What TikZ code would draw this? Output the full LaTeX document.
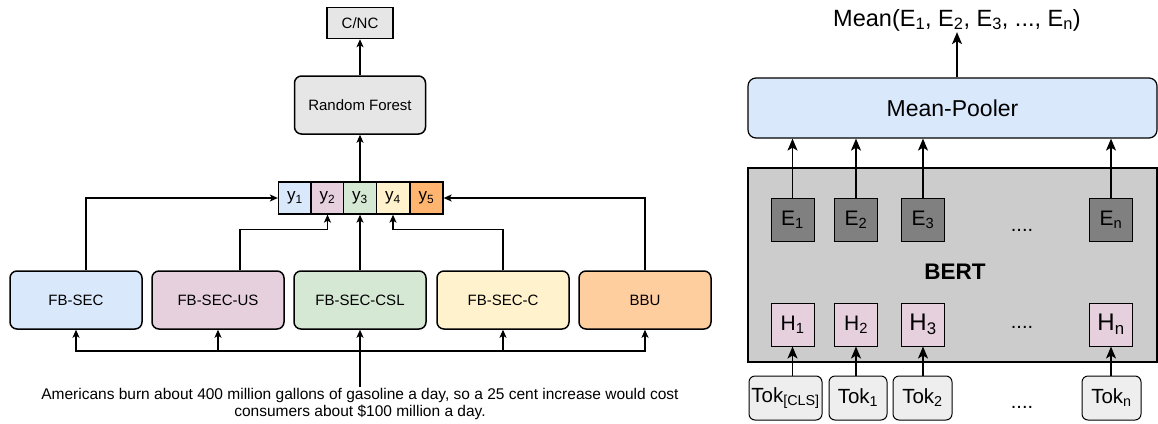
\documentclass[tikz,border=0pt]{standalone}
\usepackage{fontspec}
\setmainfont{Liberation Sans}
\usetikzlibrary{arrows.meta,positioning,calc}
\definecolor{ink}{HTML}{000000}
\definecolor{fbblue}{HTML}{DAE8FC}
\definecolor{fbpurple}{HTML}{E6D0DE}
\definecolor{fbgreen}{HTML}{D5E8D4}
\definecolor{fbyellow}{HTML}{FFF2CC}
\definecolor{bbuorange}{HTML}{FFCE9F}
\definecolor{yorange}{HTML}{FFB570}
\definecolor{rfgray}{HTML}{E6E6E6}
\definecolor{bertgray}{HTML}{CCCCCC}
\definecolor{embgray}{HTML}{808080}
\definecolor{tokgray}{HTML}{EEEEEE}

\begin{document}
\begin{tikzpicture}[
  x=1pt, y=-1pt,
  box/.style={draw=ink, line width=1.5pt, rounded corners=7pt,
    minimum width=132pt, minimum height=58pt, inner sep=2pt,
    font=\fontsize{15}{18}\selectfont},
  cell/.style={draw=ink, line width=1.3pt, minimum width=33pt, minimum height=32pt,
    inner sep=0pt, font=\fontsize{17}{18}\selectfont},
  sqbox/.style={draw=ink, line width=1pt, minimum width=43pt, minimum height=43pt,
    inner sep=0pt, font=\fontsize{21}{22}\selectfont},
  tokbox/.style={draw=ink, line width=1pt, rounded corners=6pt, fill=tokgray,
    minimum height=44pt, inner sep=0pt, font=\fontsize{20.5}{22}\selectfont},
  dots/.style={font=\fontsize{20}{22}\selectfont, inner sep=0pt},
  flow/.style={-{Stealth[length=8pt,width=7pt,inset=2pt]}, draw=ink, line width=1.3pt},
  bigflow/.style={-{Stealth[length=12pt,width=10pt,inset=3pt]}, draw=ink, line width=1.4pt}
]
  \useasboundingbox (0,0) rectangle (1158,423);

  % left: ensemble
  \node[draw=ink, line width=1.5pt, fill=rfgray, minimum width=66pt, minimum height=31pt,
    font=\fontsize{15}{18}\selectfont] (cnc) at (360,23) {C/NC};
  \node[box, fill=rfgray, minimum width=131pt] (rf) at (360,105) {Random Forest};

  \node[cell, fill=fbblue] (y1) at (295,198) {y\textsubscript{1}};
  \node[cell, fill=fbpurple] (y2) at (327.5,198) {y\textsubscript{2}};
  \node[cell, fill=fbgreen] (y3) at (360,198) {y\textsubscript{3}};
  \node[cell, fill=fbyellow] (y4) at (393,198) {y\textsubscript{4}};
  \node[cell, fill=yorange] (y5) at (426.5,198) {y\textsubscript{5}};

  \node[box, fill=fbblue] (fbsec) at (76,300) {FB-SEC};
  \node[box, fill=fbpurple] (fbsecus) at (218,300) {\raisebox{-3pt}{FB-SEC-US}};
  \node[box, fill=fbgreen] (csl) at (360,300) {FB-SEC-CSL};
  \node[box, fill=fbyellow] (fbsecc) at (503,300) {FB-SEC-C};
  \node[box, fill=bbuorange] (bbu) at (645,300) {BBU};

  \node[align=center, inner sep=1pt, font=\fontsize{15.5}{17}\selectfont] (sent) at (360,404)
    {Americans burn about 400 million gallons of gasoline a day, so a 25 cent increase would cost\\
     consumers about \$100 million a day.};

  \draw[flow] (rf) -- (cnc);
  \draw[flow] (y3) -- (rf);
  \draw[flow] ([xshift=10pt]fbsec.north) |- (y1.west);
  \draw[flow] ([xshift=22pt]fbsecus.north) -- ++(0,-41) -| (y2.south);
  \draw[flow] (csl) -- (y3);
  \draw[flow] (fbsecc.north) -- ++(0,-41) -| (y4.south);
  \draw[flow] (bbu.north) |- (y5.east);

  \draw[draw=ink, line width=2.4pt] (sent.north) -- ++(0,-36) coordinate (hub);
  \foreach \b in {fbsec,fbsecus,csl,fbsecc,bbu}
    \draw[flow] (hub) -| (\b.south);

  % right: BERT mean pooling
  \node[font=\fontsize{23.5}{26}\selectfont, inner sep=1pt] (meanout) at (957,20)
    {Mean(E\textsubscript{1}, E\textsubscript{2}, E\textsubscript{3}, ..., E\textsubscript{n})};
  \node[draw=ink, line width=1.2pt, rounded corners=8pt, fill=fbblue, minimum width=409pt,
    minimum height=60pt, font=\fontsize{23}{26}\selectfont] (pooler) at (952.5,108) {Mean-Pooler};
  \node[draw=ink, line width=1.2pt, fill=bertgray, minimum width=409pt, minimum height=194pt]
    (bert) at (952.5,265) {};
  \node[font=\bfseries\fontsize{22.5}{26}\selectfont] (bertlbl) at (955,272) {BERT};

  \node[sqbox, fill=embgray] (e1) at (792.5,220) {E\textsubscript{1}};
  \node[sqbox, fill=embgray] (e2) at (856,220) {E\textsubscript{2}};
  \node[sqbox, fill=embgray] (e3) at (923,220) {E\textsubscript{3}};
  \node[sqbox, fill=embgray] (en) at (1111,220) {E\textsubscript{n}};
  \node[dots] (edots) at (1022,230) {....};

  \node[sqbox, fill=fbpurple] (h1) at (792.5,324.5) {H\textsubscript{1}};
  \node[sqbox, fill=fbpurple] (h2) at (856,324.5) {H\textsubscript{2}};
  \node[sqbox, fill=fbpurple, font=\fontsize{24}{26}\selectfont] (h3) at (923,324.5) {H\textsubscript{3}};
  \node[sqbox, fill=fbpurple, font=\fontsize{24}{26}\selectfont] (hn) at (1111,324.5) {H\textsubscript{n}};
  \node[dots] (hdots) at (1022,327) {....};

  \node[tokbox, minimum width=73pt] (tokcls) at (785.5,398) {Tok\textsubscript{[CLS]}};
  \node[tokbox, minimum width=58pt] (tok1) at (858,398) {Tok\textsubscript{1}};
  \node[tokbox, minimum width=59pt] (tok2) at (922.5,398) {Tok\textsubscript{2}};
  \node[tokbox, minimum width=59pt] (tokn) at (1111.5,398) {Tok\textsubscript{n}};
  \node[dots] (tdots) at (1022,407) {....};

  \draw[bigflow] (pooler.north -| meanout) -- (meanout);
  \foreach \e in {e1,e2,e3,en}
    \draw[bigflow] (\e.north) -- (pooler.south -| \e.north);
  \draw[bigflow] (tokcls.north -| h1) -- (h1.south);
  \draw[bigflow] (tok1.north -| h2) -- (h2.south);
  \draw[bigflow] (tok2.north -| h3) -- (h3.south);
  \draw[bigflow] (tokn.north -| hn) -- (hn.south);
\end{tikzpicture}
\end{document}
